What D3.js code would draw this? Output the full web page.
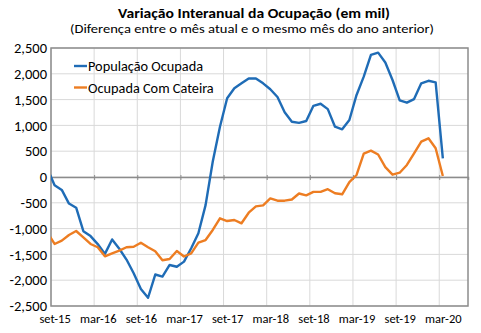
<!DOCTYPE html>
<html>
<head>
<meta charset="utf-8">
<script src="https://cdn.jsdelivr.net/npm/d3@7"></script>
<style>
  html, body { margin: 0; padding: 0; background: #ffffff; }
  svg { display: block; font-family: Carlito, Lato, "Open Sans", sans-serif; }
</style>
</head>
<body>
<svg id="chart" width="481" height="333"></svg>
<script>
// Monthly categories (ago-15 lies just outside the left edge and is clipped)
const months = [
  "ago-15","set-15","out-15","nov-15","dez-15",
  "jan-16","fev-16","mar-16","abr-16","mai-16","jun-16","jul-16","ago-16","set-16","out-16","nov-16","dez-16",
  "jan-17","fev-17","mar-17","abr-17","mai-17","jun-17","jul-17","ago-17","set-17","out-17","nov-17","dez-17",
  "jan-18","fev-18","mar-18","abr-18","mai-18","jun-18","jul-18","ago-18","set-18","out-18","nov-18","dez-18",
  "jan-19","fev-19","mar-19","abr-19","mai-19","jun-19","jul-19","ago-19","set-19","out-19","nov-19","dez-19",
  "jan-20","fev-20","mar-20"
];

// Year-over-year change, thousands of people
const populacaoOcupada = [
  160, -160, -250, -515, -595,
  -1050, -1145, -1300, -1490, -1210, -1390, -1600, -1865, -2170, -2340, -1890, -1930,
  -1705, -1740, -1640, -1380, -1090, -545, 300, 975, 1525, 1720, 1815, 1910,
  1910, 1815, 1700, 1550, 1255, 1070, 1050, 1085, 1380, 1420, 1315, 975,
  925, 1105, 1590, 1945, 2365, 2410, 2220, 1880, 1485, 1440, 1510, 1815,
  1865, 1835, 360
];

const ocupadaComCarteira = [
  -1080, -1298, -1234, -1124, -1047,
  -1169, -1298, -1362, -1537, -1479, -1428, -1362, -1351, -1273, -1362, -1440, -1614,
  -1589, -1434, -1541, -1479, -1273, -1221, -1027, -800, -853, -833, -897, -692,
  -570, -550, -415, -459, -459, -436, -320, -355, -288, -288, -236, -316,
  -335, -100, 39, 452, 510, 436, 190, 45, 83, 233, 459, 684,
  750, 556, 20
];

const yTicks = [-2500, -2000, -1500, -1000, -500, 0, 500, 1000, 1500, 2000, 2500];
const xTickLabels = ["set-15","mar-16","set-16","mar-17","set-17","mar-18","set-18","mar-19","set-19","mar-20"];

const seriesNames = ["População Ocupada", "Ocupada Com Cateira"];
const seriesColors = ["#1f6cb6", "#ed7d22"];

const svg = d3.select("#chart");
const plotLeft = 51, plotRight = 468, plotTop = 48, plotBottom = 306;

// Each month occupies one slot; values sit at slot centres
const x = d3.scaleLinear()
  .domain([months.indexOf("set-15") - 0.5, months.indexOf("set-15") - 0.5 + 58])
  .range([plotLeft, plotRight]);
const y = d3.scaleLinear().domain([-2500, 2500]).range([plotBottom, plotTop]);

const tickIdx = xTickLabels.map(m => months.indexOf(m));

// Gridlines
svg.append("g")
  .selectAll("line")
  .data(yTicks)
  .join("line")
  .attr("x1", plotLeft).attr("x2", plotRight)
  .attr("y1", d => y(d)).attr("y2", d => y(d))
  .attr("stroke", "#d9d9d9").attr("stroke-width", 1);

svg.append("g")
  .selectAll("line")
  .data(tickIdx)
  .join("line")
  .attr("x1", d => x(d - 0.5)).attr("x2", d => x(d - 0.5))
  .attr("y1", plotTop).attr("y2", plotBottom)
  .attr("stroke", "#d9d9d9").attr("stroke-width", 1);

// Plot border
svg.append("rect")
  .attr("x", plotLeft).attr("y", plotTop)
  .attr("width", plotRight - plotLeft).attr("height", plotBottom - plotTop)
  .attr("fill", "none").attr("stroke", "#8c8c8c").attr("stroke-width", 1.5);

// Zero line with crossing tick marks
const zeroAxis = svg.append("g")
  .attr("transform", `translate(0,${y(0)})`)
  .call(d3.axisBottom(x).tickValues(tickIdx.map(d => d - 0.5)).tickSize(3).tickFormat(""));
zeroAxis.select(".domain").attr("stroke", "#8c8c8c").attr("stroke-width", 1.5);
zeroAxis.selectAll(".tick line").attr("stroke", "#8c8c8c").attr("y1", -2).attr("y2", 3);

// Y axis labels
const yAxis = svg.append("g")
  .attr("transform", `translate(${plotLeft},0)`)
  .call(d3.axisLeft(y).tickValues(yTicks).tickSize(0).tickPadding(4)
    .tickFormat(d => d3.format(",")(d).replace("\u2212", "-")));
yAxis.select(".domain").remove();
yAxis.attr("font-family", null).attr("font-size", null);
yAxis.selectAll("text").attr("font-size", 14.5).attr("fill", "#000");

// X axis labels at the bottom, centred in their month slot
const xAxis = svg.append("g")
  .attr("transform", `translate(0,${plotBottom})`)
  .call(d3.axisBottom(x).tickValues(tickIdx).tickSize(0).tickPadding(8)
    .tickFormat(d => months[d]));
xAxis.select(".domain").remove();
xAxis.attr("font-family", null).attr("font-size", null);
xAxis.selectAll("text").attr("font-size", 12.5).attr("fill", "#000");

// Lines, clipped to the plot area
svg.append("clipPath").attr("id", "plotClip")
  .append("rect").attr("x", plotLeft).attr("y", plotTop - 5)
  .attr("width", plotRight - plotLeft).attr("height", plotBottom - plotTop + 10);

const line = d3.line().x((d, i) => x(i)).y(d => y(d));
const series = [populacaoOcupada, ocupadaComCarteira];
svg.append("g").attr("clip-path", "url(#plotClip)")
  .selectAll("path")
  .data(series)
  .join("path")
  .attr("d", d => line(d))
  .attr("fill", "none")
  .attr("stroke", (d, i) => seriesColors[i])
  .attr("stroke-width", 2.4)
  .attr("stroke-linejoin", "round");

// Legend
const legend = svg.append("g");
seriesNames.forEach((name, i) => {
  const ly = 66 + i * 21.5;
  legend.append("line")
    .attr("x1", 74).attr("x2", 87).attr("y1", ly).attr("y2", ly)
    .attr("stroke", seriesColors[i]).attr("stroke-width", 2.4);
  legend.append("text")
    .attr("x", 88).attr("y", ly).attr("dy", "0.35em")
    .attr("font-size", 14.3).text(name);
});

// Titles
svg.append("text")
  .attr("x", 254).attr("y", 18).attr("text-anchor", "middle")
  .attr("font-size", 14.5).attr("font-weight", "bold")
  .attr("textLength", 272).attr("lengthAdjust", "spacingAndGlyphs")
  .text("Variação Interanual da Ocupação (em mil)");
svg.append("text")
  .attr("x", 252).attr("y", 33).attr("text-anchor", "middle")
  .attr("font-size", 12)
  .attr("textLength", 364).attr("lengthAdjust", "spacingAndGlyphs")
  .text("(Diferença entre o mês atual e o mesmo mês do ano anterior)");
</script>
</body>
</html>
